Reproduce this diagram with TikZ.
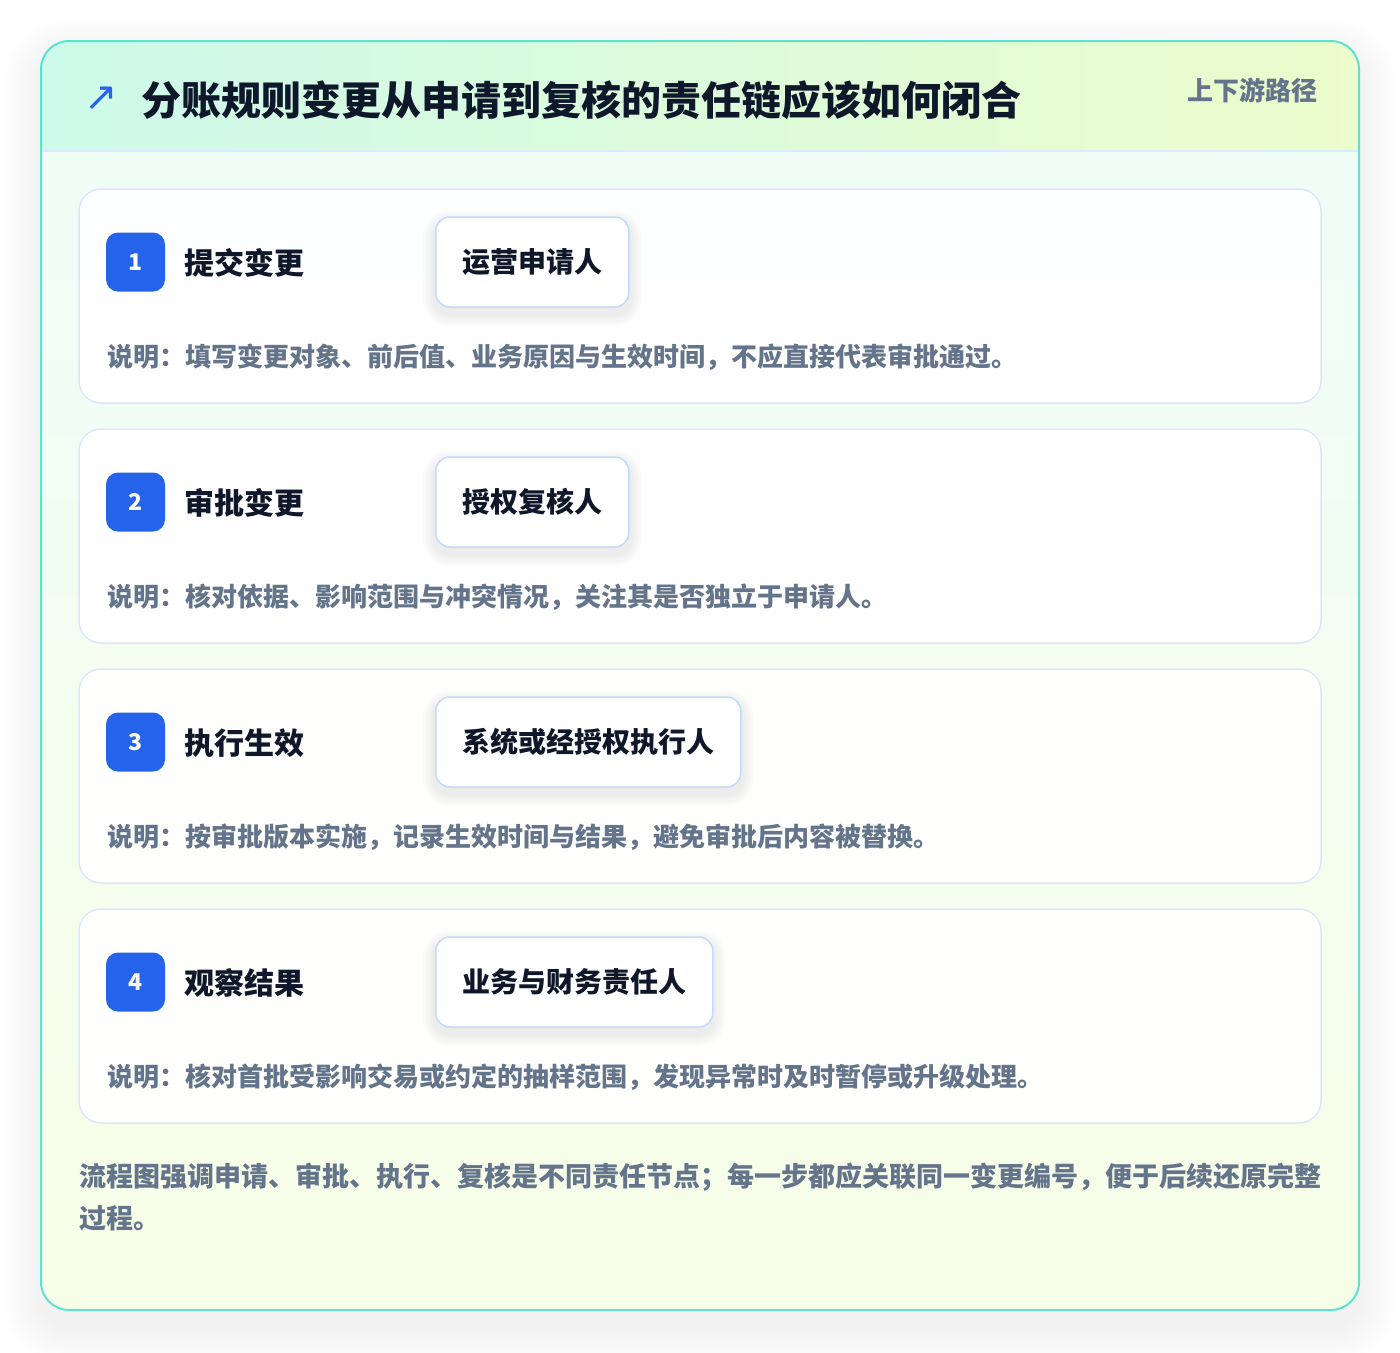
\documentclass[tikz,border=0pt]{standalone}
\usepackage{fontspec}
\setmainfont{Noto Sans CJK SC}
\newfontfamily\symfont{DejaVu Sans}
\usetikzlibrary{positioning}
\pgfdeclarelayer{background}
\pgfdeclarelayer{cards}
\pgfdeclarelayer{shadow}
\pgfsetlayers{background,cards,shadow,main}
\definecolor{inkdark}{HTML}{0F172A}
\definecolor{muted}{HTML}{64748B}
\definecolor{badgeblue}{HTML}{2563EB}
\definecolor{cardedge}{HTML}{5EE3CF}
\definecolor{sepline}{HTML}{DBEAFE}
\definecolor{stepline}{HTML}{DBE7FB}
\definecolor{roleline}{HTML}{BFDBFE}
\definecolor{headmint}{HTML}{CDFAEA}
\definecolor{headlime}{HTML}{ECFCCB}
\definecolor{bodytop}{HTML}{EFFDF9}
\definecolor{bodybot}{HTML}{F7FEE7}
\tikzstyle{stepcard}  = [draw=stepline, line width=1.5pt, fill=white, fill opacity=0.93, rounded corners=22pt, minimum width=1242pt, minimum height=214pt, inner sep=0pt]
\tikzstyle{numbox}    = [fill=badgeblue, rounded corners=12pt, minimum size=59pt, inner sep=0pt, text=white, font=\bfseries\fontsize{23}{26}\selectfont]
\tikzstyle{steptitle} = [inner sep=0pt, text=inkdark, font=\bfseries\fontsize{30}{36}\selectfont]
\tikzstyle{rolebox}   = [draw=roleline, line width=1.5pt, fill=white, rounded corners=14pt, minimum height=90pt, inner xsep=26.5pt, text=inkdark, font=\bfseries\fontsize{28}{34}\selectfont]
\tikzstyle{note}      = [inner sep=0pt, text=muted, font=\bfseries\fontsize{26}{30}\selectfont]
\tikzstyle{summary}   = [inner sep=0pt, text=muted, align=left, font=\bfseries\fontsize{27}{42}\selectfont]
\tikzstyle{haze}      = [fill=black, fill opacity=0.004, draw=none]

\begin{document}
\begin{tikzpicture}[x=1pt,y=-1pt]
  \useasboundingbox (0,0) rectangle (1400,1352);
  % soft shadow, then outer card with header band
  \begin{pgfonlayer}{background}
    \foreach \r in {3,6,...,39}
      \path[haze, rounded corners=28pt+\r pt] (41-\r,41-\r+16) rectangle (1359+\r,1310+\r+16);
    \path[rounded corners=28pt, top color=bodytop, bottom color=bodybot] (41,41) rectangle (1359,1310);
    \begin{scope}
      \clip[rounded corners=28pt] (41,41) rectangle (1359,1310);
      \shade[left color=headmint, right color=headlime] (41,41) rectangle (1359,151);
    \end{scope}
    \draw[sepline, line width=1.2pt] (41,151) -- (1359,151);
    \draw[cardedge, line width=2pt, rounded corners=28pt] (41,41) rectangle (1359,1310);
  \end{pgfonlayer}

  \node[inner sep=0pt, text=badgeblue, font=\symfont\fontsize{40}{44}\selectfont] (icon) at (101,99) {↗};
  \node[inner sep=0pt, anchor=west, text=inkdark, font=\bfseries\fontsize{40}{48}\selectfont] (title) at (141,100) {分账规则变更从申请到复核的责任链应该如何闭合};
  \node[inner sep=0pt, anchor=east, text=muted, font=\bfseries\fontsize{26}{30}\selectfont] (path) at (1318,90) {上下游路径};

  % one card per step
  \foreach \n/\what/\who/\why in {
      1/提交变更/运营申请人/{说明：填写变更对象、前后值、业务原因与生效时间，不应直接代表审批通过。},
      2/审批变更/授权复核人/{说明：核对依据、影响范围与冲突情况，关注其是否独立于申请人。},
      3/执行生效/系统或经授权执行人/{说明：按审批版本实施，记录生效时间与结果，避免审批后内容被替换。},
      4/观察结果/业务与财务责任人/{说明：核对首批受影响交易或约定的抽样范围，发现异常时及时暂停或升级处理。}} {
    \pgfmathsetmacro\cardy{189+(\n-1)*240}
    \begin{pgfonlayer}{cards}
      \node[stepcard] (card\n) at (700,\cardy+107) {};
    \end{pgfonlayer}
    \node[numbox] (num\n) at (135.5,\cardy+73) {\n};
    \node[steptitle, anchor=west] (what\n) at (184,\cardy+74) {\what};
    \node[rolebox, anchor=west] (who\n) at (435,\cardy+73) {\who};
    \begin{pgfonlayer}{shadow}
      \foreach \r in {2,4,...,12}
        \path[haze, fill opacity=0.012, rounded corners=14pt+\r pt] ([xshift=-\r pt, yshift=\r pt-6pt]who\n.north west) rectangle ([xshift=\r pt, yshift=-\r pt-6pt]who\n.south east);
    \end{pgfonlayer}
    \node[note, anchor=west] (why\n) at (107,\cardy+168) {\why};
  }

  \node[summary, anchor=north west] (closing) at (79,1163) {流程图强调申请、审批、执行、复核是不同责任节点；每一步都应关联同一变更编号，便于后续还原完整\\过程。};
\end{tikzpicture}
\end{document}
